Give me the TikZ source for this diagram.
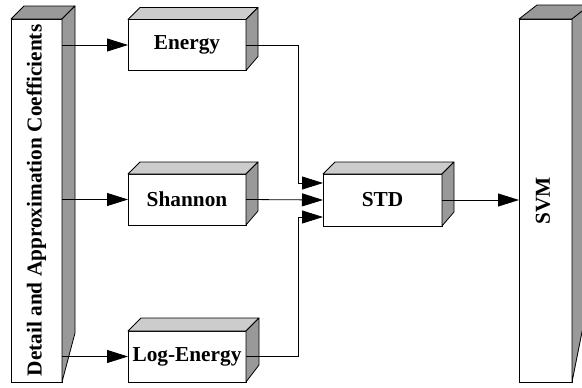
\documentclass[tikz,border=0pt]{standalone}
\usepackage{fontspec}
\setmainfont{Liberation Serif}
\usetikzlibrary{arrows.meta,calc}
\definecolor{topgray}{HTML}{CCCCCC}
\definecolor{sidegray}{HTML}{999999}
\newcommand\cuboidfaces[5]{%
  % #1 node, #2 dx, #3 dy, #4 back-bottom rise, #5 top colour
  \filldraw[facedraw, fill=#5] (#1.north west) -- ++(#2,-#3) -- ($(#1.north east)+(#2,-#3)$) -- (#1.north east) -- cycle;
  \filldraw[facedraw, fill=sidegray] (#1.north east) -- ++(#2,-#3) -- ($(#1.south east)+(#2,-#4)$) -- (#1.south east) -- cycle;
}
\begin{document}
\begin{tikzpicture}[x=1pt,y=-1pt,
  facedraw/.style={draw=black, line width=0.8pt, line join=round},
  front/.style={draw=black, fill=white, line width=0.8pt, inner sep=0pt, outer sep=0pt},
  small/.style={front, minimum width=118pt, minimum height=51pt},
  lbl/.style={font=\fontsize{21.3}{25}\selectfont\bfseries, inner sep=0pt},
  conn/.style={draw=black, line width=0.8pt},
  arr/.style={conn, -{Triangle[length=21pt,width=13pt]}}]
\useasboundingbox (0,0) rectangle (582,388);
\clip (0,0) rectangle (582,388);

% front faces
\node[front, minimum width=51pt, minimum height=363pt] (L) at (36.5,200.5) {};
\node[small] (E) at (187,45) {};
\node[small] (S) at (187,199.5) {};
\node[small] (G) at (187,356.5) {};
\node[front, minimum width=119pt, minimum height=52pt] (T) at (382.5,200) {};
\node[front, minimum width=53pt, minimum height=363pt] (V) at (545.5,200.5) {};

% 3D faces
\cuboidfaces{L}{13}{13}{49}{sidegray}
\cuboidfaces{E}{12}{12}{14}{topgray}
\cuboidfaces{S}{12}{12}{14}{topgray}
\cuboidfaces{G}{13}{13}{17}{topgray}
\cuboidfaces{T}{12}{12}{14}{topgray}
\cuboidfaces{V}{18}{14}{90}{sidegray}

% labels
\node[lbl, rotate=90] (Lt) at (L) {Detail and Approximation Coefficients};
\node[lbl] (Et) at (E) {Energy};
\node[lbl] (St) at (S) {Shannon};
\node[lbl] (Gt) at (G) {Log-Energy};
\node[lbl] (Tt) at (T) {STD};
\node[lbl, rotate=90] (Vt) at (543,201) {SVM};

% connection points
\coordinate (in1) at ($(T.west)+(0,-17)$);
\coordinate (in3) at ($(T.west)+(0,17)$);
\coordinate (bus) at (298,0);

% connectors
\draw[arr] (L.east |- E.west) -- (E.west);
\draw[arr] (L.east |- S.west) -- (S.west);
\draw[arr] (L.east |- G.west) -- (G.west);
\draw[arr] (E.east) -- (bus |- E.east) -- (bus |- in1) -- (in1);
\draw[arr] (S.east) -- (T.west);
\draw[arr] (G.east) -- (bus |- G.east) -- (bus |- in3) -- (in3);
\draw[arr] (T.east) -- (V.west |- T.east);
\end{tikzpicture}
\end{document}
